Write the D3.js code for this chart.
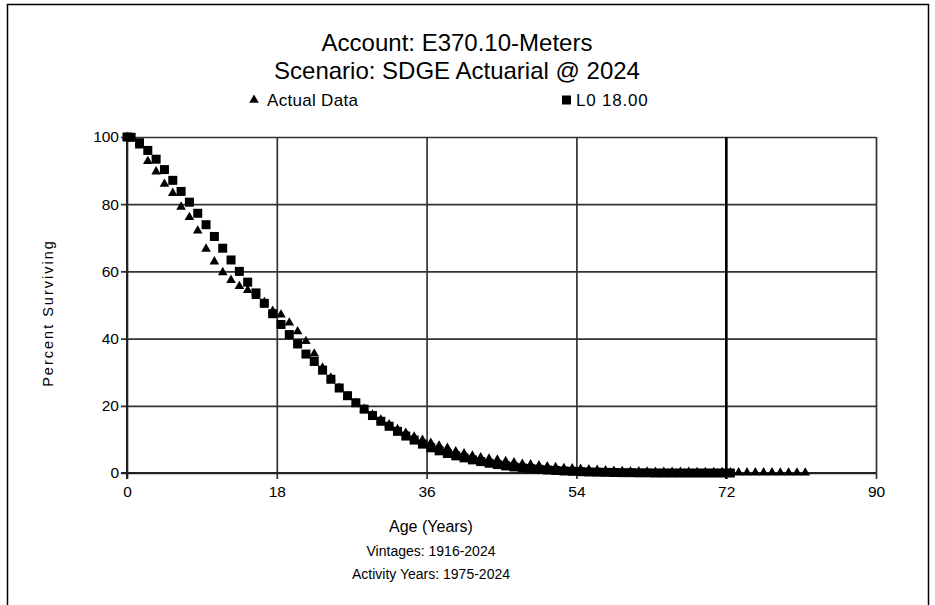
<!DOCTYPE html>
<html>
<head>
<meta charset="utf-8">
<script src="https://cdnjs.cloudflare.com/ajax/libs/d3/7.8.5/d3.min.js"></script>
<style>
  body { margin: 0; background: #fff; }
  text { font-family: "Liberation Sans", Arial, sans-serif; fill: #000; }
  .grid line { stroke: #333; stroke-width: 1.7; }
  .grid text { font-size: 15.5px; }
</style>
</head>
<body>
<script>
// age at which each point is plotted (years)
const ages = [0, 0.5, 1.5, 2.5, 3.5, 4.5, 5.5, 6.5, 7.5, 8.5, 9.5, 10.5, 11.5, 12.5, 13.5, 14.5,
  15.5, 16.5, 17.5, 18.5, 19.5, 20.5, 21.5, 22.5, 23.5, 24.5, 25.5, 26.5, 27.5, 28.5, 29.5,
  30.5, 31.5, 32.5, 33.5, 34.5, 35.5, 36.5, 37.5, 38.5, 39.5, 40.5, 41.5, 42.5, 43.5, 44.5,
  45.5, 46.5, 47.5, 48.5, 49.5, 50.5, 51.5, 52.5, 53.5, 54.5, 55.5, 56.5, 57.5, 58.5, 59.5,
  60.5, 61.5, 62.5, 63.5, 64.5, 65.5, 66.5, 67.5, 68.5, 69.5, 70.5, 71.5, 72.5, 73.5, 74.5,
  75.5, 76.5, 77.5, 78.5, 79.5, 80.5, 81.5];

// percent surviving, actual data (triangles)
const actualData = [100, 99.8, 97.4, 92.8, 89.7, 86.0, 83.3, 79.2, 76.1, 72.1, 66.7, 62.9, 59.7, 57.4, 55.6, 54.4,
  52.6, 50.8, 48.2, 47.1, 44.7, 42.1, 39.2, 35.5, 31.3, 28.3, 25.3, 22.8, 20.8, 19.0, 17.3,
  15.8, 14.4, 13.0, 11.9, 10.8, 9.8, 8.9, 8.1, 7.4, 6.4, 5.8, 5.1, 4.6, 4.2, 3.9,
  3.5, 3.1, 2.7, 2.5, 2.2, 1.9, 1.7, 1.4, 1.3, 1.2, 1.0, 0.9, 0.7, 0.6, 0.5,
  0.4, 0.4, 0.35, 0.3, 0.3, 0.3, 0.25, 0.25, 0.2, 0.2, 0.2, 0.2, 0.15, 0.1, 0.1,
  0.1, 0.1, 0.1, 0.05, 0.05, 0.05, 0.05];

// percent surviving, L0 18.00 curve (squares), ages 0 .. 72.5
const l0Curve = [100, 99.9, 98.3, 96.0, 93.4, 90.3, 87.1, 83.8, 80.6, 77.3, 73.9, 70.4, 66.9, 63.4, 60.0, 56.8,
  53.6, 50.5, 47.4, 44.2, 41.2, 38.4, 35.4, 33.2, 30.6, 27.9, 25.3, 23.0, 20.9, 19.0, 17.1,
  15.4, 13.9, 12.4, 11.0, 9.8, 8.6, 7.5, 6.6, 5.8, 5.1, 4.5, 3.9, 3.4, 2.9, 2.5,
  2.1, 1.8, 1.5, 1.3, 1.1, 0.9, 0.75, 0.6, 0.5, 0.4, 0.3, 0.25, 0.2, 0.15, 0.1,
  0.1, 0.05, 0.05, 0, 0, 0, 0, 0, 0, 0, 0, 0, 0];

const xTicks = [0, 18, 36, 54, 72, 90];
const yTicks = [0, 20, 40, 60, 80, 100];
const titleLines = ["Account: E370.10-Meters", "Scenario: SDGE Actuarial @ 2024"];
const footLines = ["Age (Years)", "Vintages: 1916-2024", "Activity Years: 1975-2024"];

const w = 935, h = 605;
const pLeft = 127, pRight = 876, pTop = 137, pBottom = 473; // plot area
const tickOut = 6; // grid lines poke out past the axes
const mk = 9; // marker size

const svg = d3.select("body").append("svg")
  .attr("width", w)
  .attr("height", h);

// outer frame (left, top, right)
svg.append("rect")
  .attr("x", 7.5).attr("y", 4.5)
  .attr("width", 921).attr("height", h + 20)
  .attr("fill", "none")
  .attr("stroke", "#000")
  .attr("stroke-width", 1.5);

const x = d3.scaleLinear().domain([0, 90]).range([pLeft, pRight]);
const y = d3.scaleLinear().domain([0, 100]).range([pBottom, pTop]);

// grid + axes
svg.append("g")
  .attr("class", "grid")
  .attr("transform", "translate(0," + (pBottom + tickOut) + ")")
  .call(d3.axisBottom(x).tickValues(xTicks).tickSize(-(pBottom - pTop + tickOut)).tickPadding(7))
  .call(g => g.select(".domain").remove());

svg.append("g")
  .attr("class", "grid")
  .attr("transform", "translate(" + (pLeft - tickOut) + ",0)")
  .call(d3.axisLeft(y).tickValues(yTicks).tickSize(-(pRight - pLeft + tickOut)).tickPadding(2))
  .call(g => g.select(".domain").remove());

// base axis lines a bit heavier
svg.append("line").attr("x1", pLeft).attr("x2", pLeft).attr("y1", pTop).attr("y2", pBottom + tickOut)
  .attr("stroke", "#222").attr("stroke-width", 2);
svg.append("line").attr("x1", pLeft - tickOut).attr("x2", pRight).attr("y1", pBottom).attr("y2", pBottom)
  .attr("stroke", "#222").attr("stroke-width", 2);
svg.append("line").attr("x1", x(72)).attr("x2", x(72)).attr("y1", pTop).attr("y2", pBottom + tickOut)
  .attr("stroke", "#000").attr("stroke-width", 2.4);

const tri = d3.symbol().type(d3.symbolTriangle).size(40);

// L0 18.00 squares
svg.append("g").selectAll("rect")
  .data(l0Curve)
  .enter()
  .append("rect")
  .attr("x", (d, i) => x(ages[i]) - mk / 2)
  .attr("y", d => y(d) - mk / 2)
  .attr("width", mk)
  .attr("height", mk)
  .attr("fill", "#000");

// actual data triangles
svg.append("g").selectAll("path")
  .data(actualData)
  .enter()
  .append("path")
  .attr("d", tri)
  .attr("transform", (d, i) => "translate(" + x(ages[i]) + "," + y(d) + ")")
  .attr("fill", "#000");

// titles
svg.selectAll(".title")
  .data(titleLines)
  .enter()
  .append("text")
  .attr("class", "title")
  .attr("x", 457)
  .attr("y", (d, i) => 51 + i * 28)
  .attr("text-anchor", "middle")
  .style("font-size", "24px")
  .text(d => d);

// legend
svg.append("path").attr("d", tri).attr("transform", "translate(254,100)");
svg.append("text").attr("x", 267).attr("y", 106).style("font-size", "17px").style("letter-spacing", "0.3px").text("Actual Data");
svg.append("rect").attr("x", 562).attr("y", 95.5).attr("width", mk).attr("height", mk);
svg.append("text").attr("x", 576).attr("y", 106).style("font-size", "17px").style("letter-spacing", "0.8px").text("L0 18.00");

// y axis title
svg.append("text")
  .attr("transform", "translate(53,313) rotate(-90)")
  .attr("text-anchor", "middle")
  .style("font-size", "14.5px")
  .style("letter-spacing", "2px")
  .text("Percent Surviving");

// footer lines under the x axis
svg.selectAll(".foot")
  .data(footLines)
  .enter()
  .append("text")
  .attr("class", "foot")
  .attr("x", 431)
  .attr("y", (d, i) => 532 + i * 23.5)
  .attr("text-anchor", "middle")
  .style("font-size", (d, i) => i === 0 ? "16px" : "14px")
  .text(d => d);
</script>
</body>
</html>
